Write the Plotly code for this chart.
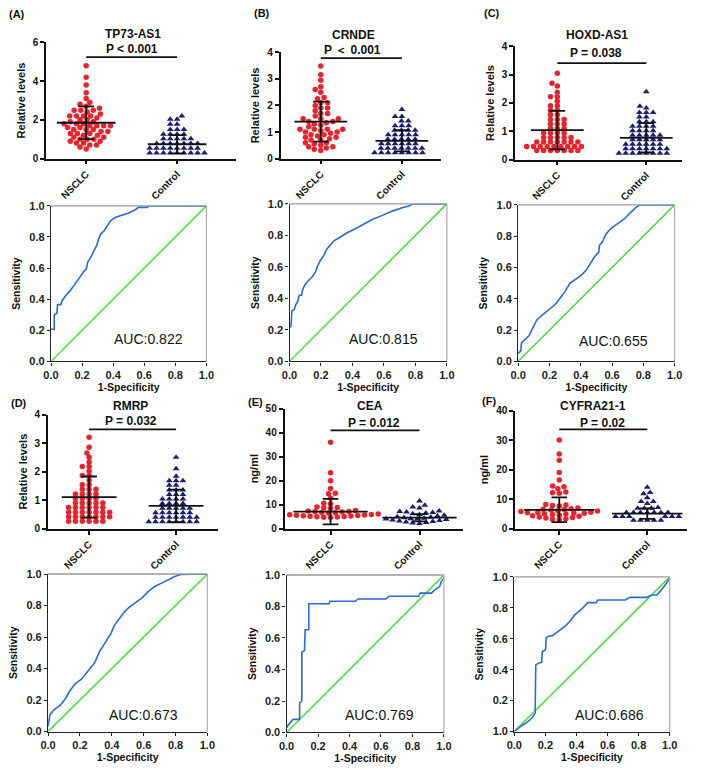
import math
import plotly.graph_objects as go

W, H = 709, 770

# ---------------- data ----------------
panel_tags = ["(A)", "(B)", "(C)", "(D)", "(E)", "(F)"]
gene_names = ["TP73-AS1", "CRNDE", "HOXD-AS1", "RMRP", "CEA", "CYFRA21-1"]
p_labels = ["P < 0.001", "P ＜ 0.001", "P = 0.038", "P = 0.032", "P = 0.012", "P = 0.02"]
auc_labels = ["AUC:0.822", "AUC:0.815", "AUC:0.655", "AUC:0.673", "AUC:0.769", "AUC:0.686"]
group_labels = ["NSCLC", "Control"]
dot_y_titles = ["Relative levels", "Relative levels", "Relative levels", "Relative levels", "ng/ml", "ng/ml"]
dot_y_max = [6, 4, 4, 4, 50, 40]
dot_y_step = [2, 1, 1, 1, 10, 10]
roc_ticks = [0.0, 0.2, 0.4, 0.6, 0.8, 1.0]
roc_tick_text = ["0.0", "0.2", "0.4", "0.6", "0.8", "1.0"]
roc_tick_text_f_y = ["1.0", "0.2", "0.4", "0.6", "0.8", "1.0"]  # as printed in panel F

# dot-plot values
a_nsclc = [4.8, 4.2, 3.8, 3.4, 3.1, 2.9, 2.8, 2.7, 2.6, 2.5, 2.5, 2.5, 2.4, 2.3, 2.2, 2.2, 2.2, 2.2,
           2.1, 2.0, 2.0, 1.9, 1.9, 1.8, 1.8, 1.8, 1.7, 1.7, 1.7, 1.7, 1.6, 1.6, 1.5, 1.5, 1.5, 1.4,
           1.4, 1.3, 1.3, 1.3, 1.2, 1.2, 1.1, 1.1, 1.0, 1.0, 1.0, 0.9, 0.9, 0.8, 0.8, 0.7, 0.7, 0.6, 0.5]
a_ctrl = [2.2, 2.03, 2.03, 1.77, 1.77, 1.5, 1.5, 1.5, 1.26, 1.26, 1.26, 1.26, 1.02, 1.02, 1.02,
          1.02, 1.02, 0.78, 0.78, 0.78, 0.78, 0.78, 0.78, 0.78, 0.53, 0.53, 0.53, 0.53, 0.53, 0.53,
          0.53, 0.53, 0.29, 0.29, 0.29, 0.29, 0.29, 0.29, 0.29, 0.29, 0.29]
b_nsclc = [3.48, 3.15, 2.95, 2.7, 2.6, 2.5, 2.3, 2.25, 2.1, 2.1, 2.0, 1.9, 1.9, 1.8, 1.7, 1.7, 1.6,
           1.5, 1.5, 1.5, 1.4, 1.4, 1.35, 1.3, 1.25, 1.2, 1.1, 1.1, 1.1, 1.1, 1.05, 1.0, 1.0, 0.95,
           0.9, 0.9, 0.85, 0.8, 0.8, 0.75, 0.7, 0.7, 0.6, 0.6, 0.55, 0.5, 0.45, 0.45, 0.4, 0.35, 0.3]
b_ctrl = [1.85, 1.58, 1.58, 1.41, 1.41, 1.24, 1.24, 1.24, 1.07, 1.07, 1.07, 1.07, 0.9, 0.9, 0.9,
          0.9, 0.9, 0.73, 0.73, 0.73, 0.73, 0.73, 0.56, 0.56, 0.56, 0.56, 0.56, 0.56, 0.39, 0.39,
          0.39, 0.39, 0.39, 0.39, 0.39, 0.22, 0.22, 0.22, 0.22, 0.22, 0.22, 0.22, 0.22]
c_nsclc = [3.05, 2.7, 2.6, 2.38, 2.22, 2.22, 2.06, 1.9, 1.9, 1.74, 1.74, 1.58, 1.58, 1.42, 1.42,
           1.42, 1.26, 1.26, 1.26, 1.1, 1.1, 1.1, 0.94, 0.94, 0.94, 0.94, 0.78, 0.78, 0.78, 0.78,
           0.78, 0.62, 0.62, 0.62, 0.62, 0.62, 0.62, 0.62, 0.46, 0.46, 0.46, 0.46, 0.46, 0.46, 0.46,
           0.46, 0.46, 0.32, 0.32, 0.32, 0.32, 0.32, 0.32, 0.32]
c_ctrl = [2.4, 1.88, 1.82, 1.66, 1.66, 1.66, 1.5, 1.5, 1.34, 1.34, 1.34, 1.18, 1.18, 1.18, 1.18,
          1.02, 1.02, 1.02, 1.02, 0.86, 0.86, 0.86, 0.86, 0.86, 0.7, 0.7, 0.7, 0.7, 0.7, 0.54,
          0.54, 0.54, 0.54, 0.54, 0.54, 0.38, 0.38, 0.38, 0.38, 0.38, 0.38, 0.38, 0.22, 0.22,
          0.22, 0.22, 0.22, 0.22, 0.22, 0.22]
d_nsclc = [3.2, 2.85, 2.65, 2.5, 2.34, 2.18, 2.18, 2.02, 1.86, 1.86, 1.7, 1.54, 1.54, 1.38, 1.38,
           1.38, 1.22, 1.22, 1.22, 1.22, 1.06, 1.06, 1.06, 1.06, 0.9, 0.9, 0.9, 0.9, 0.9, 0.74,
           0.74, 0.74, 0.74, 0.74, 0.74, 0.58, 0.58, 0.58, 0.58, 0.58, 0.58, 0.58, 0.42, 0.42, 0.42,
           0.42, 0.42, 0.42, 0.42, 0.26, 0.26, 0.26, 0.26, 0.26, 0.26]
d_ctrl = [2.5, 2.1, 1.84, 1.68, 1.68, 1.68, 1.52, 1.52, 1.36, 1.36, 1.36, 1.2, 1.2, 1.2, 1.04,
          1.04, 1.04, 1.04, 0.88, 0.88, 0.88, 0.88, 0.72, 0.72, 0.72, 0.72, 0.72, 0.56, 0.56, 0.56,
          0.56, 0.56, 0.56, 0.4, 0.4, 0.4, 0.4, 0.4, 0.4, 0.4, 0.24, 0.24, 0.24, 0.24, 0.24, 0.24,
          0.24, 0.24]
e_nsclc = [36, 23.3, 20, 16.7, 14.8, 14.6, 12.8, 10.6, 10.4, 9.0, 8.8, 8.7, 8.5, 7.6, 7.4, 7.2, 7.1,
           7.0, 6.8, 6.7, 6.5, 6.3, 6.1, 6.0, 5.9, 5.8, 5.7, 5.6, 5.5, 5.4, 5.3, 5.2, 5.1, 5.0, 4.9,
           4.8, 4.7]
e_ctrl = [11.5, 9.8, 9.0, 8.6, 7.4, 7.2, 7.0, 6.8, 6.6, 6.2, 5.9, 5.6, 5.3, 5.0, 4.8, 4.6, 4.4, 4.2,
          4.1, 4.0, 3.8, 3.6, 3.4, 3.2, 3.0, 2.8, 2.6, 2.4, 2.2]
f_nsclc = [30, 25.3, 23.2, 19, 16.5, 14.5, 14.2, 13.5, 12.4, 12.2, 12.0, 8.2, 8.0, 7.9, 7.7, 7.0,
           6.8, 6.6, 6.5, 6.3, 6.1, 6.0, 5.8, 5.6, 5.5, 5.4, 5.3, 5.2, 5.1, 5.0, 4.8, 4.6, 4.4, 4.2,
           4.0, 3.8, 3.6, 3.4, 3.2, 3.0]
f_ctrl = [14, 12.3, 11.8, 10.5, 9.2, 9.2, 8.5, 7.2, 6.9, 6.9, 6.9, 5.5, 5.5, 5.5, 5.5, 5.5,
          5.5, 5.5, 4.1, 4.1, 4.1, 4.1, 4.1, 4.1, 2.9, 2.9, 2.9, 2.9, 2.9]
nsclc_values = [a_nsclc, b_nsclc, c_nsclc, d_nsclc, e_nsclc, f_nsclc]
ctrl_values = [a_ctrl, b_ctrl, c_ctrl, d_ctrl, e_ctrl, f_ctrl]

# mean and SD
nsclc_mean = [1.85, 1.39, 1.04, 1.11, 7.1, 6.4]
nsclc_sd = [0.85, 0.75, 0.68, 0.72, 5.3, 4.2]
ctrl_mean = [0.74, 0.67, 0.77, 0.80, 4.6, 5.1]
ctrl_sd = [0.47, 0.40, 0.52, 0.57, 1.5, 1.8]

# ROC curves (1-specificity, sensitivity)
roc_a_x = [0, 0.021, 0.021, 0.038, 0.042, 0.063, 0.069, 0.084, 0.10, 0.12, 0.143, 0.164, 0.185, 0.21,
           0.227, 0.237, 0.258, 0.273, 0.294, 0.307, 0.321, 0.342, 0.363, 0.384, 0.416, 0.458, 0.5,
           0.542, 0.563, 0.622, 0.626, 1.0]
roc_a_y = [0.207, 0.207, 0.30, 0.31, 0.365, 0.365, 0.387, 0.41, 0.43, 0.45, 0.48, 0.51, 0.54, 0.577,
           0.594, 0.64, 0.672, 0.704, 0.746, 0.789, 0.82, 0.84, 0.873, 0.905, 0.926, 0.941, 0.954,
           0.975, 0.99, 0.99, 1.0, 1.0]
roc_b_x = [0, 0.01, 0.015, 0.03, 0.04, 0.052, 0.062, 0.077, 0.083, 0.097, 0.118, 0.145, 0.166, 0.176,
           0.197, 0.218, 0.239, 0.259, 0.284, 0.322, 0.363, 0.415, 0.467, 0.529, 0.591, 0.653, 0.716,
           0.768, 0.778, 1.0]
roc_b_y = [0.215, 0.225, 0.32, 0.33, 0.36, 0.38, 0.42, 0.42, 0.454, 0.485, 0.51, 0.537, 0.569, 0.60,
           0.642, 0.673, 0.715, 0.74, 0.767, 0.788, 0.815, 0.84, 0.869, 0.902, 0.927, 0.954, 0.975,
           0.99, 1.0, 1.0]
roc_c_x = [0, 0.017, 0.021, 0.048, 0.069, 0.094, 0.121, 0.153, 0.195, 0.236, 0.268, 0.299, 0.331,
           0.372, 0.404, 0.435, 0.462, 0.487, 0.515, 0.519, 0.536, 0.561, 0.592, 0.634, 0.676, 0.718,
           0.749, 0.78, 1.0]
roc_c_y = [0.048, 0.069, 0.12, 0.143, 0.163, 0.216, 0.268, 0.296, 0.331, 0.363, 0.405, 0.447, 0.499,
           0.53, 0.551, 0.583, 0.625, 0.667, 0.698, 0.74, 0.761, 0.813, 0.849, 0.876, 0.908, 0.95,
           0.981, 1.0, 1.0]
roc_d_x = [0, 0.012, 0.037, 0.078, 0.109, 0.139, 0.17, 0.211, 0.252, 0.293, 0.324, 0.365, 0.395,
           0.416, 0.447, 0.477, 0.508, 0.549, 0.59, 0.631, 0.672, 0.713, 0.754, 0.795, 0.836, 1.0]
roc_d_y = [0.035, 0.107, 0.138, 0.169, 0.21, 0.262, 0.303, 0.334, 0.386, 0.437, 0.509, 0.571, 0.623,
           0.674, 0.715, 0.757, 0.788, 0.819, 0.849, 0.891, 0.922, 0.942, 0.963, 0.984, 0.998, 1.0]
roc_e_x = [0, 0.014, 0.041, 0.083, 0.083, 0.097, 0.097, 0.114, 0.118, 0.141, 0.141, 0.27, 0.275,
           0.435, 0.455, 0.631, 0.652, 0.839, 0.849, 0.921, 0.942, 0.973, 0.983, 1.0, 1.0]
roc_e_y = [0.031, 0.052, 0.083, 0.083, 0.1875, 0.2, 0.51, 0.52, 0.652, 0.652, 0.817, 0.817, 0.833,
           0.833, 0.848, 0.848, 0.865, 0.865, 0.885, 0.885, 0.906, 0.927, 0.958, 0.98, 1.0]
roc_f_x = [0, 0.034, 0.075, 0.113, 0.134, 0.138, 0.159, 0.176, 0.18, 0.201, 0.205, 0.222, 0.243,
           0.285, 0.327, 0.358, 0.39, 0.432, 0.474, 0.526, 0.537, 0.715, 0.742, 0.851, 0.883, 0.918,
           0.946, 0.977, 1.0]
roc_f_y = [0, 0.028, 0.055, 0.087, 0.119, 0.431, 0.444, 0.448, 0.516, 0.529, 0.607, 0.618, 0.618,
           0.65, 0.682, 0.713, 0.756, 0.79, 0.834, 0.834, 0.851, 0.851, 0.868, 0.868, 0.883, 0.883,
           0.915, 0.958, 0.99]
roc_x = [roc_a_x, roc_b_x, roc_c_x, roc_d_x, roc_e_x, roc_f_x]
roc_y = [roc_a_y, roc_b_y, roc_c_y, roc_d_y, roc_e_y, roc_f_y]
ref_line = [0, 1]

# ---------------- layout geometry (pixels) ----------------
# x_left, x_right, y_top (y max), y_bottom (y=0), NSCLC px, Control px
dot_box = [
    (39, 233, 37, 155, 80, 173),
    (279, 443, 47, 155, 320, 403),
    (519, 690, 41, 156, 562, 653),
    (41, 215, 415, 531, 83, 172),
    (283, 465, 409, 531, 330, 421),
    (519, 695, 411, 531, 564, 654),
]
roc_box = [
    (44, 203, 203, 361),
    (288, 449, 201, 361),
    (522, 682, 202, 361),
    (41, 204, 577, 737),
    (285, 446, 578, 738),
    (518, 677, 580, 737),
]
tag_pos = [(9, 8), (260, 7), (495, 7), (11, 403), (253, 402), (492, 401)]
title_pos = [(128, 28), (353, 29), (603, 29), (125, 406), (370, 406), (599, 406)]
p_pos = [(127, 44), (352, 45), (602, 48), (126, 422), (374, 424), (608, 424)]
sig_y = [52, 53, 58, 430, 431, 430]
auc_pos = [(144, 338), (384, 338), (619, 340), (139, 720), (380, 720), (615, 720)]
mean_hw = [30, 27, 27, 28, 38, 36]
cap_hw = 8
SEP_X = 7.0   # horizontal spacing between neighbouring symbols (px)
SEP_Y = 4.6   # vertical spacing between neighbouring symbols (px)

FONT = "Arial, Liberation Sans, sans-serif"
RED = "#e8232b"
NAVY = "#1d1d70"
BLUE = "#2b6ad8"
GREEN = "#3ade2e"


def fx(px):
    return px / W


def fy(py):
    return 1 - py / H


def swarm(vals, px_per_y):
    """Beeswarm offsets (px) with an elliptical collision zone."""
    d = SEP_X
    sc = SEP_X / SEP_Y
    order = sorted(range(len(vals)), key=lambda i: vals[i])
    placed = []
    offs = [0.0] * len(vals)
    for i in order:
        y = vals[i] * px_per_y * sc
        cands = [0.0]
        for (xj, yj) in placed:
            dy = abs(yj - y)
            if dy < d:
                dx = math.sqrt(d * d - dy * dy)
                cands += [xj + dx, xj - dx]
        cands.sort(key=lambda c: (abs(c), c))
        chosen = 0.0
        for c in cands:
            if all((c - xj) ** 2 + (y - yj) ** 2 >= d * d - 1e-6 for xj, yj in placed):
                chosen = c
                break
        placed.append((chosen, y))
        offs[i] = chosen
    return offs


fig = go.Figure()
layout = dict(width=W, height=H, margin=dict(l=0, r=0, t=0, b=0),
              paper_bgcolor="white", plot_bgcolor="white", showlegend=False,
              font=dict(family=FONT, color="#111"))
annotations = []
shapes = []

for k in range(6):
    # ---------- dot plot ----------
    idx = k + 1
    xl, xr, yt, yb, c0, c1 = dot_box[k]
    ppx = c1 - c0
    ppy = (yb - yt) / dot_y_max[k]
    xr0 = (xl - c0) / ppx
    xr1 = (xr - c0) / ppx
    xs = "x" if idx == 1 else f"x{idx}"
    ys = "y" if idx == 1 else f"y{idx}"
    xa = "xaxis" if idx == 1 else f"xaxis{idx}"
    ya = "yaxis" if idx == 1 else f"yaxis{idx}"

    for g, (vals, col, sym, mean, sd) in enumerate([
        (nsclc_values[k], RED, "circle", nsclc_mean[k], nsclc_sd[k]),
        (ctrl_values[k], NAVY, "triangle-up", ctrl_mean[k], ctrl_sd[k]),
    ]):
        offs = swarm(vals, ppy)
        fig.add_trace(go.Scatter(
            x=[g + o / ppx for o in offs], y=vals, mode="markers", xaxis=xs, yaxis=ys,
            marker=dict(symbol=sym, color=col, size=5.5 if sym == "circle" else 6,
                        line=dict(width=0)),
            cliponaxis=False, hoverinfo="skip"))
        hw = mean_hw[k] / ppx
        cw = cap_hw / ppx
        lx = [g - hw, g + hw, None, g, g, None, g - cw, g + cw, None, g - cw, g + cw]
        ly = [mean, mean, None, mean - sd, mean + sd, None, mean + sd, mean + sd, None,
              mean - sd, mean - sd]
        fig.add_trace(go.Scatter(x=lx, y=ly, mode="lines", xaxis=xs, yaxis=ys,
                                 line=dict(color="#111", width=1.8), cliponaxis=False,
                                 hoverinfo="skip"))

    layout[xa] = dict(domain=[fx(xl), fx(xr)], anchor=ys, range=[xr0, xr1],
                      showline=True, linecolor="#111", linewidth=1.8,
                      ticks="outside", ticklen=4, tickwidth=1.5, tickcolor="#111",
                      tickvals=[0, 1], ticktext=group_labels, tickangle=-45,
                      tickfont=dict(size=10, family=FONT, weight="bold", color="#111"),
                      showgrid=False, zeroline=False)
    layout[ya] = dict(domain=[fy(yb), fy(yt)], anchor=xs, range=[0, dot_y_max[k]],
                      showline=True, linecolor="#111", linewidth=1.8,
                      ticks="outside", ticklen=4, tickwidth=1.5, tickcolor="#111",
                      dtick=dot_y_step[k], tick0=0,
                      tickfont=dict(size=10, family=FONT, weight="bold", color="#111"),
                      title=dict(text=dot_y_titles[k], standoff=5,
                                 font=dict(size=11, family=FONT, weight="bold", color="#111")),
                      showgrid=False, zeroline=False)

    shapes.append(dict(type="line", xref=xs, yref="paper", x0=0, x1=1,
                       y0=fy(sig_y[k]), y1=fy(sig_y[k]), line=dict(color="#111", width=1.8)))
    annotations.append(dict(text=gene_names[k], x=fx(title_pos[k][0]), y=fy(title_pos[k][1]),
                            xref="paper", yref="paper", showarrow=False, xanchor="center",
                            yanchor="middle",
                            font=dict(size=12, family=FONT, weight="bold", color="#111")))
    annotations.append(dict(text=p_labels[k], x=fx(p_pos[k][0]), y=fy(p_pos[k][1]),
                            xref="paper", yref="paper", showarrow=False, xanchor="center",
                            yanchor="middle",
                            font=dict(size=12, family=FONT, weight="bold", color="#111")))
    annotations.append(dict(text=panel_tags[k], x=fx(tag_pos[k][0]), y=fy(tag_pos[k][1]),
                            xref="paper", yref="paper", showarrow=False, xanchor="center",
                            yanchor="middle",
                            font=dict(size=11, family=FONT, weight="bold", color="#111")))

    # ---------- ROC ----------
    ridx = k + 7
    rxs = f"x{ridx}"
    rys = f"y{ridx}"
    rx0, rx1, ryt, ryb = roc_box[k]
    fig.add_trace(go.Scatter(x=ref_line, y=ref_line, mode="lines", xaxis=rxs, yaxis=rys,
                             line=dict(color=GREEN, width=1.4), cliponaxis=False,
                             hoverinfo="skip"))
    fig.add_trace(go.Scatter(x=roc_x[k], y=roc_y[k], mode="lines", xaxis=rxs, yaxis=rys,
                             line=dict(color=BLUE, width=1.6), cliponaxis=False,
                             hoverinfo="skip"))
    layout[f"xaxis{ridx}"] = dict(domain=[fx(rx0), fx(rx1)], anchor=rys, range=[0, 1],
                                  showline=True, linecolor="#222", linewidth=1.3,
                                  ticks="outside", ticklen=3, tickwidth=1, tickcolor="#222",
                                  tickvals=roc_ticks, ticktext=roc_tick_text,
                                  tickfont=dict(size=11, family=FONT, weight="bold", color="#222"),
                                  title=dict(text="1-Specificity", standoff=2,
                                             font=dict(size=10.5, family=FONT, weight="bold",
                                                       color="#111")),
                                  showgrid=False, zeroline=False)
    layout[f"yaxis{ridx}"] = dict(domain=[fy(ryb), fy(ryt)], anchor=rxs, range=[0, 1],
                                  showline=True, linecolor="#222", linewidth=1.3,
                                  ticks="outside", ticklen=3, tickwidth=1, tickcolor="#222",
                                  tickvals=roc_ticks,
                                  ticktext=roc_tick_text_f_y if k == 5 else roc_tick_text,
                                  tickfont=dict(size=11, family=FONT, weight="bold", color="#222"),
                                  title=dict(text="Sensitivity", standoff=6,
                                             font=dict(size=10.5, family=FONT, weight="bold",
                                                       color="#111")),
                                  showgrid=False, zeroline=False)
    shapes.append(dict(type="line", xref=f"{rxs} domain", yref=f"{rys} domain",
                       x0=0, x1=1, y0=1, y1=1, line=dict(color="#9a9a9a", width=1.3)))
    shapes.append(dict(type="line", xref=f"{rxs} domain", yref=f"{rys} domain",
                       x0=1, x1=1, y0=0, y1=1, line=dict(color="#b0b0b0", width=1.3)))
    annotations.append(dict(text=auc_labels[k], x=fx(auc_pos[k][0]), y=fy(auc_pos[k][1]),
                            xref="paper", yref="paper", showarrow=False, xanchor="center",
                            yanchor="middle",
                            font=dict(size=14, family=FONT, color="#111")))

layout["annotations"] = annotations
layout["shapes"] = shapes
fig.update_layout(**layout)
fig.write_html("out.html", config={"displayModeBar": False},
               post_script="document.body.style.margin='0';document.body.style.padding='0';")
